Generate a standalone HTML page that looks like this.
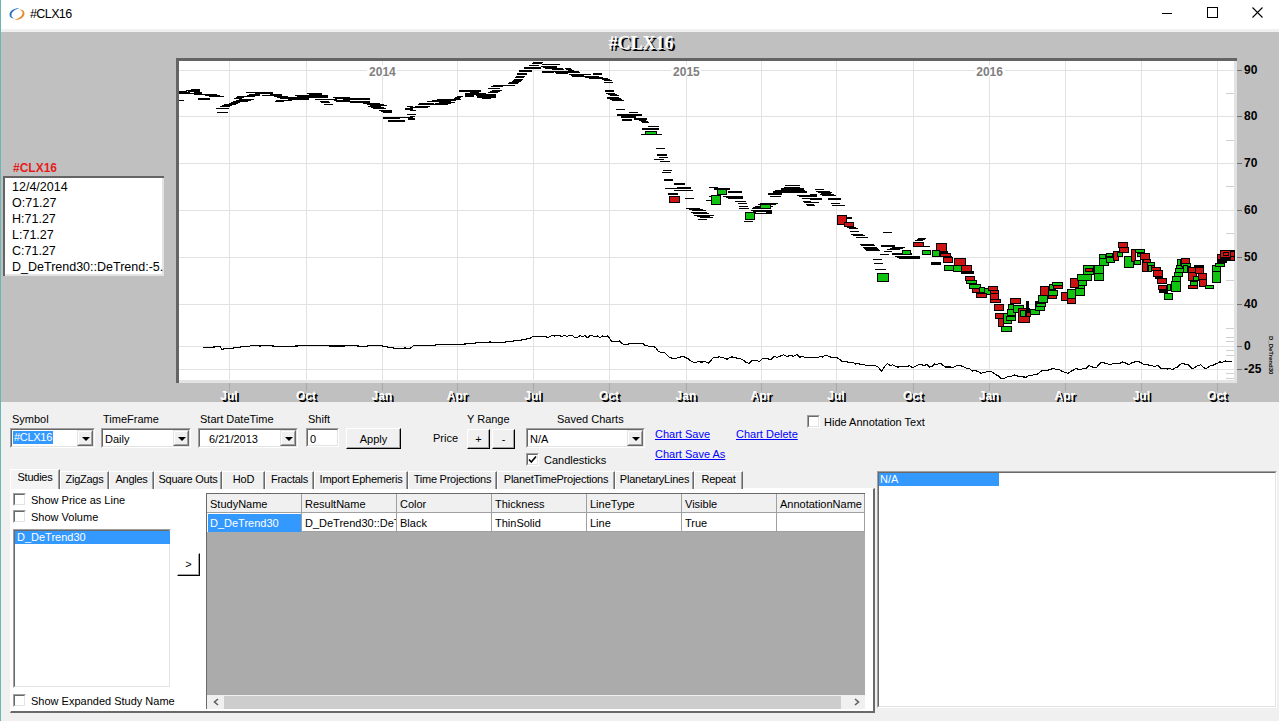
<!DOCTYPE html>
<html><head><meta charset="utf-8">
<style>
*{box-sizing:border-box;margin:0;padding:0}
html,body{width:1279px;height:721px;overflow:hidden}
body{position:relative;background:#f0f0f0;font-family:"Liberation Sans",sans-serif;font-size:11px;color:#000}
.abs{position:absolute}
.lbl{position:absolute;font-size:11px;line-height:13px;white-space:nowrap;padding-top:1px}
.sunk{position:absolute;background:#fff;border-top:1px solid #a0a0a0;border-left:1px solid #a0a0a0;border-right:1px solid #fff;border-bottom:1px solid #fff}
.sunk>.in{position:absolute;left:0;top:0;right:0;bottom:0;border-top:1px solid #696969;border-left:1px solid #696969;border-right:1px solid #e3e3e3;border-bottom:1px solid #e3e3e3}
.btn{position:absolute;background:#f0f0f0;border-top:1px solid #fff;border-left:1px solid #fff;border-right:1px solid #000;border-bottom:1px solid #000;text-align:center;font-size:11px}
.btn>.in{position:absolute;left:0;top:0;right:0;bottom:0;border-right:1px solid #a0a0a0;border-bottom:1px solid #a0a0a0}
.ddb{position:absolute;top:1px;bottom:1px;right:1px;width:16px;background:#f0f0f0;border-top:1px solid #e3e3e3;border-left:1px solid #e3e3e3;border-right:1px solid #696969;border-bottom:1px solid #696969}
.ddb>.in{position:absolute;left:0;top:0;right:0;bottom:0;border-top:1px solid #fff;border-left:1px solid #fff;border-right:1px solid #a0a0a0;border-bottom:1px solid #a0a0a0}
.arr{position:absolute;left:4px;top:6px;width:0;height:0;border-left:4px solid transparent;border-right:4px solid transparent;border-top:4px solid #000}
.chk{position:absolute;width:13px;height:13px;background:#fff;border-top:1px solid #a0a0a0;border-left:1px solid #a0a0a0;border-right:1px solid #fff;border-bottom:1px solid #fff}
.chk>.in{position:absolute;left:0;top:0;right:0;bottom:0;border-top:1px solid #696969;border-left:1px solid #696969;border-right:1px solid #e3e3e3;border-bottom:1px solid #e3e3e3}
.sel{position:absolute;background:#3399ff;color:#fff}
.link{position:absolute;color:#0000ff;text-decoration:underline;font-size:11px;line-height:13px;white-space:nowrap;padding-top:1px}
.tab{position:absolute;top:471px;height:18px;background:#f0f0f0;border-top:1px solid #fff;border-left:1px solid #fff;border-right:1px solid #696969;font-size:11px;line-height:15px;text-align:center;white-space:nowrap;letter-spacing:-0.25px}
.tab>.in{position:absolute;left:0;top:0;right:0;bottom:0;border-right:1px solid #a0a0a0}
.cell{position:absolute;font-size:11px;line-height:19px;padding-left:3px;white-space:nowrap;overflow:hidden}
</style></head><body>
<!-- title bar -->
<div class="abs" style="left:0;top:0;width:1279px;height:29px;background:#fff"></div>
<div class="abs" style="left:0;top:29px;width:1279px;height:3px;background:#f0f0f0"></div>
<svg class="abs" style="left:8px;top:6px" width="18" height="16" viewBox="0 0 18 16">
  <path d="M11.5 2.2 C7 1.8 1.6 4.2 1.5 8.6 C1.5 11.2 3.6 12.8 6.8 12.6 C4.2 11.8 3.2 10.4 3.5 8.4 C4 5.4 7.5 3.2 11.5 2.2 Z" fill="#2a73c4"/>
  <path d="M6.5 13.8 C11 14.2 16.4 11.8 16.5 7.4 C16.5 4.8 14.4 3.2 11.2 3.4 C13.8 4.2 14.8 5.6 14.5 7.6 C14 10.6 10.5 12.8 6.5 13.8 Z" fill="#e8892a"/>
</svg>
<div class="lbl" style="left:30px;top:6px;font-size:12.5px;line-height:15px;letter-spacing:-0.6px">#CLX16</div>
<svg class="abs" style="left:1160px;top:0" width="119" height="29" shape-rendering="crispEdges">
  <rect x="2" y="13" width="10" height="1" fill="#000"/>
  <rect x="47.5" y="7.5" width="10" height="10" fill="none" stroke="#000" stroke-width="1"/>
  <path d="M92.5 7.5 L102.5 17.5 M102.5 7.5 L92.5 17.5" stroke="#000" stroke-width="1.1" shape-rendering="geometricPrecision"/>
</svg>
<div class="abs" style="left:0;top:0;width:1px;height:721px;background:#6bb5b5"></div>
<svg class="abs" style="left:0;top:0" width="1279" height="402" shape-rendering="crispEdges"><rect x="1" y="32" width="1278" height="370" fill="#c0c0c0"/><rect x="176" y="58" width="1061" height="325" fill="#646464"/><rect x="179" y="61" width="1058" height="322" fill="#e3e3e3"/><rect x="179" y="61" width="1055" height="319" fill="#ffffff"/><rect x="179" y="70" width="1055" height="1" fill="#e2e2e2"/><rect x="179" y="116" width="1055" height="1" fill="#e2e2e2"/><rect x="179" y="163" width="1055" height="1" fill="#e2e2e2"/><rect x="179" y="210" width="1055" height="1" fill="#e2e2e2"/><rect x="179" y="257" width="1055" height="1" fill="#e2e2e2"/><rect x="179" y="304" width="1055" height="1" fill="#e2e2e2"/><rect x="179" y="346" width="1055" height="1" fill="#e2e2e2"/><rect x="179" y="369" width="1055" height="1" fill="#e2e2e2"/><rect x="229" y="61" width="1" height="319" fill="#e2e2e2"/><rect x="229" y="383" width="1" height="8" fill="#a8a8a8"/><rect x="306" y="61" width="1" height="319" fill="#e2e2e2"/><rect x="306" y="383" width="1" height="8" fill="#a8a8a8"/><rect x="382" y="61" width="1" height="319" fill="#e2e2e2"/><rect x="382" y="383" width="1" height="8" fill="#a8a8a8"/><rect x="457" y="61" width="1" height="319" fill="#e2e2e2"/><rect x="457" y="383" width="1" height="8" fill="#a8a8a8"/><rect x="533" y="61" width="1" height="319" fill="#e2e2e2"/><rect x="533" y="383" width="1" height="8" fill="#a8a8a8"/><rect x="609" y="61" width="1" height="319" fill="#e2e2e2"/><rect x="609" y="383" width="1" height="8" fill="#a8a8a8"/><rect x="686" y="61" width="1" height="319" fill="#e2e2e2"/><rect x="686" y="383" width="1" height="8" fill="#a8a8a8"/><rect x="761" y="61" width="1" height="319" fill="#e2e2e2"/><rect x="761" y="383" width="1" height="8" fill="#a8a8a8"/><rect x="836" y="61" width="1" height="319" fill="#e2e2e2"/><rect x="836" y="383" width="1" height="8" fill="#a8a8a8"/><rect x="913" y="61" width="1" height="319" fill="#e2e2e2"/><rect x="913" y="383" width="1" height="8" fill="#a8a8a8"/><rect x="989" y="61" width="1" height="319" fill="#e2e2e2"/><rect x="989" y="383" width="1" height="8" fill="#a8a8a8"/><rect x="1065" y="61" width="1" height="319" fill="#e2e2e2"/><rect x="1065" y="383" width="1" height="8" fill="#a8a8a8"/><rect x="1141" y="61" width="1" height="319" fill="#e2e2e2"/><rect x="1141" y="383" width="1" height="8" fill="#a8a8a8"/><rect x="1217" y="61" width="1" height="319" fill="#e2e2e2"/><rect x="1217" y="383" width="1" height="8" fill="#a8a8a8"/><rect x="1226" y="93" width="8" height="1" fill="#d0d0d0"/><rect x="1226" y="140" width="8" height="1" fill="#d0d0d0"/><rect x="1226" y="186" width="8" height="1" fill="#d0d0d0"/><rect x="1226" y="233" width="8" height="1" fill="#d0d0d0"/><rect x="1226" y="280" width="8" height="1" fill="#d0d0d0"/><rect x="1226" y="328" width="8" height="1" fill="#d0d0d0"/><rect x="1226" y="337" width="8" height="1" fill="#d0d0d0"/><rect x="1226" y="341" width="8" height="1" fill="#d0d0d0"/><rect x="1226" y="350" width="8" height="1" fill="#d0d0d0"/><rect x="1226" y="355" width="8" height="1" fill="#d0d0d0"/><rect x="1226" y="373" width="8" height="1" fill="#d0d0d0"/><rect x="1226" y="378" width="8" height="1" fill="#d0d0d0"/><rect x="1237" y="70" width="5" height="1" fill="#707070"/><rect x="1237" y="116" width="5" height="1" fill="#707070"/><rect x="1237" y="163" width="5" height="1" fill="#707070"/><rect x="1237" y="210" width="5" height="1" fill="#707070"/><rect x="1237" y="257" width="5" height="1" fill="#707070"/><rect x="1237" y="304" width="5" height="1" fill="#707070"/><rect x="1237" y="346" width="5" height="1" fill="#707070"/><rect x="1237" y="369" width="5" height="1" fill="#707070"/><rect x="367.4" y="65" width="30" height="11" fill="#ffffff"/><text x="382.4" y="76" text-anchor="middle" font-family="Liberation Sans" font-weight="bold" font-size="12" fill="#808080">2014</text><rect x="671.4" y="65" width="30" height="11" fill="#ffffff"/><text x="686.4" y="76" text-anchor="middle" font-family="Liberation Sans" font-weight="bold" font-size="12" fill="#808080">2015</text><rect x="974.6" y="65" width="30" height="11" fill="#ffffff"/><text x="989.6" y="76" text-anchor="middle" font-family="Liberation Sans" font-weight="bold" font-size="12" fill="#808080">2016</text><rect x="179" y="91" width="8" height="3" fill="#000"/><rect x="186" y="90" width="14" height="1" fill="#000"/><rect x="188" y="91" width="12" height="1" fill="#000"/><rect x="186" y="92" width="4" height="1" fill="#000"/><rect x="196" y="92" width="4" height="1" fill="#000"/><rect x="187" y="93" width="13" height="1" fill="#000"/><rect x="191" y="89" width="9" height="1" fill="#000"/><rect x="194" y="92" width="8" height="3" fill="#000"/><rect x="202" y="94" width="15" height="1" fill="#000"/><rect x="205" y="95" width="15" height="1" fill="#000"/><rect x="209" y="96" width="15" height="1" fill="#000"/><rect x="198" y="98" width="12" height="2" fill="#000"/><rect x="179" y="100" width="5" height="1" fill="#000"/><rect x="224" y="104" width="10" height="1" fill="#000"/><rect x="222" y="105" width="10" height="1" fill="#000"/><rect x="220" y="106" width="10" height="1" fill="#000"/><rect x="231" y="102" width="9" height="1" fill="#000"/><rect x="229" y="103" width="9" height="1" fill="#000"/><rect x="227" y="104" width="9" height="1" fill="#000"/><rect x="216" y="108" width="13" height="1" fill="#000"/><rect x="217" y="112" width="11" height="1" fill="#000"/><rect x="239" y="99" width="15" height="1" fill="#000"/><rect x="236" y="100" width="15" height="1" fill="#000"/><rect x="233" y="101" width="15" height="1" fill="#000"/><rect x="237" y="96" width="8" height="1" fill="#000"/><rect x="236" y="97" width="8" height="1" fill="#000"/><rect x="234" y="98" width="8" height="1" fill="#000"/><rect x="249" y="94" width="10" height="1" fill="#000"/><rect x="247" y="95" width="10" height="1" fill="#000"/><rect x="245" y="96" width="10" height="1" fill="#000"/><rect x="246" y="92" width="11" height="1" fill="#000"/><rect x="255" y="92" width="5" height="4" fill="#000"/><rect x="260" y="92" width="13" height="2" fill="#000"/><rect x="262" y="95" width="9" height="1" fill="#000"/><rect x="270" y="94" width="12" height="2" fill="#000"/><rect x="274" y="96" width="14" height="1" fill="#000"/><rect x="277" y="97" width="14" height="1" fill="#000"/><rect x="280" y="98" width="14" height="1" fill="#000"/><rect x="276" y="100" width="16" height="1" fill="#000"/><rect x="275" y="101" width="9" height="1" fill="#000"/><rect x="284" y="97" width="25" height="1" fill="#000"/><rect x="286" y="98" width="23" height="1" fill="#000"/><rect x="288" y="99" width="21" height="1" fill="#000"/><rect x="295" y="95" width="33" height="1" fill="#000"/><rect x="297" y="96" width="31" height="1" fill="#000"/><rect x="299" y="97" width="29" height="1" fill="#000"/><rect x="307" y="93" width="15" height="1" fill="#000"/><rect x="309" y="94" width="13" height="1" fill="#000"/><rect x="311" y="95" width="11" height="1" fill="#000"/><rect x="315" y="99" width="20" height="1" fill="#000"/><rect x="320" y="101" width="9" height="1" fill="#000"/><rect x="321" y="102" width="9" height="1" fill="#000"/><rect x="324" y="104" width="9" height="1" fill="#000"/><rect x="333" y="97" width="17" height="1" fill="#000"/><rect x="335" y="98" width="15" height="1" fill="#000"/><rect x="333" y="99" width="4" height="1" fill="#000"/><rect x="345" y="99" width="5" height="1" fill="#000"/><rect x="334" y="100" width="16" height="1" fill="#000"/><rect x="336" y="101" width="14" height="1" fill="#000"/><rect x="343" y="98" width="27" height="2" fill="#000"/><rect x="350" y="101" width="20" height="2" fill="#000"/><rect x="363" y="103" width="17" height="1" fill="#000"/><rect x="367" y="104" width="17" height="1" fill="#000"/><rect x="370" y="105" width="17" height="1" fill="#000"/><rect x="368" y="106" width="13" height="1" fill="#000"/><rect x="371" y="107" width="13" height="1" fill="#000"/><rect x="373" y="108" width="13" height="1" fill="#000"/><rect x="379" y="110" width="13" height="1" fill="#000"/><rect x="381" y="111" width="11" height="1" fill="#000"/><rect x="383" y="112" width="9" height="1" fill="#000"/><rect x="383" y="117" width="17" height="2" fill="#000"/><rect x="395" y="117" width="18" height="1" fill="#000"/><rect x="388" y="120" width="17" height="2" fill="#000"/><rect x="407" y="106" width="6" height="1" fill="#000"/><rect x="405" y="108" width="8" height="2" fill="#000"/><rect x="407" y="114" width="6" height="1" fill="#000"/><rect x="410" y="116" width="5" height="1" fill="#000"/><rect x="408" y="118" width="7" height="2" fill="#000"/><rect x="410" y="114" width="6" height="1" fill="#000"/><rect x="410" y="107" width="7" height="1" fill="#000"/><rect x="410" y="110" width="6" height="1" fill="#000"/><rect x="419" y="103" width="15" height="1" fill="#000"/><rect x="418" y="104" width="15" height="1" fill="#000"/><rect x="415" y="106" width="15" height="1" fill="#000"/><rect x="413" y="107" width="15" height="1" fill="#000"/><rect x="437" y="99" width="24" height="1" fill="#000"/><rect x="432" y="100" width="24" height="1" fill="#000"/><rect x="427" y="101" width="24" height="1" fill="#000"/><rect x="439" y="102" width="16" height="1" fill="#000"/><rect x="435" y="103" width="16" height="1" fill="#000"/><rect x="432" y="104" width="16" height="1" fill="#000"/><rect x="457" y="96" width="6" height="1" fill="#000"/><rect x="455" y="97" width="6" height="1" fill="#000"/><rect x="454" y="98" width="6" height="1" fill="#000"/><rect x="459" y="90" width="22" height="2" fill="#000"/><rect x="472" y="90" width="9" height="2" fill="#000"/><rect x="470" y="92" width="9" height="2" fill="#000"/><rect x="465" y="93" width="21" height="2" fill="#000"/><rect x="465" y="95" width="9" height="2" fill="#000"/><rect x="476" y="94" width="20" height="2" fill="#000"/><rect x="477" y="96" width="19" height="2" fill="#000"/><rect x="482" y="98" width="9" height="1" fill="#000"/><rect x="493" y="85" width="12" height="1" fill="#000"/><rect x="491" y="86" width="12" height="1" fill="#000"/><rect x="488" y="88" width="12" height="1" fill="#000"/><rect x="492" y="90" width="10" height="1" fill="#000"/><rect x="490" y="91" width="10" height="1" fill="#000"/><rect x="488" y="92" width="10" height="1" fill="#000"/><rect x="509" y="82" width="10" height="1" fill="#000"/><rect x="508" y="83" width="10" height="1" fill="#000"/><rect x="505" y="85" width="10" height="1" fill="#000"/><rect x="516" y="76" width="9" height="1" fill="#000"/><rect x="515" y="77" width="9" height="1" fill="#000"/><rect x="514" y="79" width="9" height="1" fill="#000"/><rect x="513" y="80" width="9" height="1" fill="#000"/><rect x="512" y="81" width="9" height="1" fill="#000"/><rect x="517" y="73" width="10" height="2" fill="#000"/><rect x="519" y="70" width="13" height="2" fill="#000"/><rect x="524" y="67" width="17" height="2" fill="#000"/><rect x="533" y="62" width="10" height="1" fill="#000"/><rect x="532" y="63" width="10" height="1" fill="#000"/><rect x="529" y="65" width="10" height="1" fill="#000"/><rect x="542" y="64" width="18" height="1" fill="#000"/><rect x="541" y="66" width="16" height="1" fill="#000"/><rect x="543" y="67" width="14" height="1" fill="#000"/><rect x="545" y="68" width="12" height="1" fill="#000"/><rect x="542" y="71" width="12" height="2" fill="#000"/><rect x="551" y="68" width="12" height="1" fill="#000"/><rect x="552" y="69" width="12" height="1" fill="#000"/><rect x="554" y="71" width="12" height="1" fill="#000"/><rect x="555" y="72" width="12" height="1" fill="#000"/><rect x="556" y="73" width="12" height="1" fill="#000"/><rect x="565" y="68" width="6" height="1" fill="#000"/><rect x="566" y="69" width="6" height="1" fill="#000"/><rect x="568" y="70" width="6" height="1" fill="#000"/><rect x="566" y="71" width="13" height="1" fill="#000"/><rect x="567" y="72" width="13" height="1" fill="#000"/><rect x="569" y="74" width="13" height="1" fill="#000"/><rect x="571" y="75" width="13" height="1" fill="#000"/><rect x="572" y="76" width="13" height="1" fill="#000"/><rect x="581" y="74" width="10" height="1" fill="#000"/><rect x="593" y="73" width="9" height="2" fill="#000"/><rect x="581" y="76" width="18" height="1" fill="#000"/><rect x="585" y="77" width="18" height="1" fill="#000"/><rect x="589" y="78" width="18" height="1" fill="#000"/><rect x="600" y="78" width="8" height="1" fill="#000"/><rect x="602" y="79" width="8" height="1" fill="#000"/><rect x="604" y="80" width="8" height="1" fill="#000"/><rect x="604" y="82" width="9" height="1" fill="#000"/><rect x="605" y="90" width="9" height="2" fill="#000"/><rect x="606" y="93" width="9" height="1" fill="#000"/><rect x="608" y="94" width="9" height="1" fill="#000"/><rect x="610" y="95" width="9" height="1" fill="#000"/><rect x="607" y="97" width="12" height="1" fill="#000"/><rect x="609" y="98" width="12" height="1" fill="#000"/><rect x="612" y="100" width="12" height="1" fill="#000"/><rect x="607" y="98" width="12" height="1" fill="#000"/><rect x="610" y="99" width="12" height="1" fill="#000"/><rect x="612" y="100" width="12" height="1" fill="#000"/><rect x="616" y="109" width="9" height="1" fill="#000"/><rect x="629" y="112" width="9" height="1" fill="#000"/><rect x="617" y="114" width="25" height="2" fill="#000"/><rect x="621" y="116" width="15" height="2" fill="#000"/><rect x="622" y="119" width="10" height="2" fill="#000"/><rect x="634" y="118" width="13" height="2" fill="#000"/><rect x="639" y="120" width="7" height="1" fill="#000"/><rect x="641" y="121" width="7" height="1" fill="#000"/><rect x="642" y="122" width="7" height="1" fill="#000"/><rect x="648" y="126" width="11" height="1" fill="#000"/><rect x="642" y="128" width="17" height="2" fill="#000"/><rect x="645" y="131" width="8" height="1" fill="#000"/><rect x="647" y="132" width="8" height="1" fill="#000"/><rect x="648" y="133" width="8" height="1" fill="#000"/><rect x="641" y="134" width="21" height="1" fill="#000"/><rect x="656" y="148" width="9" height="1" fill="#000"/><rect x="657" y="154" width="10" height="2" fill="#000"/><rect x="659" y="157" width="9" height="1" fill="#000"/><rect x="654" y="159" width="10" height="1" fill="#000"/><rect x="660" y="161" width="10" height="1" fill="#000"/><rect x="663" y="170" width="9" height="1" fill="#000"/><rect x="662" y="172" width="9" height="1" fill="#000"/><rect x="664" y="179" width="9" height="2" fill="#000"/><rect x="674" y="183" width="11" height="2" fill="#000"/><rect x="665" y="188" width="26" height="1" fill="#000"/><rect x="677" y="187" width="14" height="2" fill="#000"/><rect x="674" y="190" width="19" height="1" fill="#000"/><rect x="668" y="193" width="10" height="2" fill="#000"/><rect x="685" y="198" width="9" height="1" fill="#000"/><rect x="686" y="208" width="14" height="1" fill="#000"/><rect x="689" y="209" width="14" height="1" fill="#000"/><rect x="692" y="210" width="14" height="1" fill="#000"/><rect x="691" y="212" width="16" height="1" fill="#000"/><rect x="693" y="213" width="16" height="1" fill="#000"/><rect x="698" y="215" width="16" height="1" fill="#000"/><rect x="694" y="215" width="13" height="1" fill="#000"/><rect x="697" y="216" width="13" height="1" fill="#000"/><rect x="700" y="217" width="13" height="1" fill="#000"/><rect x="698" y="219" width="9" height="1" fill="#000"/><rect x="709" y="187" width="9" height="1" fill="#000"/><rect x="714" y="188" width="16" height="2" fill="#000"/><rect x="728" y="191" width="12" height="2" fill="#000"/><rect x="709" y="196" width="11" height="1" fill="#000"/><rect x="706" y="200" width="5" height="1" fill="#000"/><rect x="723" y="196" width="12" height="1" fill="#000"/><rect x="726" y="197" width="12" height="1" fill="#000"/><rect x="728" y="198" width="12" height="1" fill="#000"/><rect x="735" y="201" width="5" height="1" fill="#000"/><rect x="735" y="191" width="7" height="2" fill="#000"/><rect x="735" y="196" width="8" height="3" fill="#000"/><rect x="735" y="201" width="11" height="1" fill="#000"/><rect x="738" y="203" width="9" height="1" fill="#000"/><rect x="739" y="206" width="9" height="1" fill="#000"/><rect x="739" y="208" width="10" height="1" fill="#000"/><rect x="751" y="210" width="21" height="1" fill="#000"/><rect x="753" y="211" width="19" height="1" fill="#000"/><rect x="751" y="212" width="5" height="1" fill="#000"/><rect x="766" y="212" width="6" height="1" fill="#000"/><rect x="752" y="213" width="20" height="1" fill="#000"/><rect x="744" y="221" width="9" height="1" fill="#000"/><rect x="760" y="203" width="18" height="1" fill="#000"/><rect x="758" y="204" width="18" height="1" fill="#000"/><rect x="755" y="206" width="18" height="1" fill="#000"/><rect x="753" y="207" width="18" height="1" fill="#000"/><rect x="752" y="208" width="18" height="1" fill="#000"/><rect x="785" y="185" width="15" height="1" fill="#000"/><rect x="784" y="187" width="16" height="1" fill="#000"/><rect x="781" y="188" width="23" height="2" fill="#000"/><rect x="775" y="190" width="30" height="1" fill="#000"/><rect x="773" y="191" width="34" height="2" fill="#000"/><rect x="768" y="193" width="14" height="2" fill="#000"/><rect x="770" y="196" width="11" height="1" fill="#000"/><rect x="797" y="195" width="13" height="1" fill="#000"/><rect x="799" y="196" width="13" height="1" fill="#000"/><rect x="802" y="198" width="13" height="1" fill="#000"/><rect x="803" y="201" width="8" height="1" fill="#000"/><rect x="804" y="202" width="8" height="1" fill="#000"/><rect x="806" y="204" width="8" height="1" fill="#000"/><rect x="807" y="205" width="8" height="1" fill="#000"/><rect x="815" y="189" width="9" height="1" fill="#000"/><rect x="816" y="191" width="14" height="1" fill="#000"/><rect x="818" y="192" width="14" height="1" fill="#000"/><rect x="820" y="194" width="14" height="1" fill="#000"/><rect x="822" y="195" width="14" height="1" fill="#000"/><rect x="810" y="198" width="12" height="2" fill="#000"/><rect x="828" y="198" width="13" height="2" fill="#000"/><rect x="810" y="202" width="9" height="1" fill="#000"/><rect x="831" y="203" width="9" height="1" fill="#000"/><rect x="832" y="205" width="13" height="1" fill="#000"/><rect x="846" y="217" width="6" height="2" fill="#000"/><rect x="845" y="226" width="9" height="1" fill="#000"/><rect x="847" y="227" width="9" height="1" fill="#000"/><rect x="849" y="228" width="9" height="1" fill="#000"/><rect x="850" y="231" width="9" height="1" fill="#000"/><rect x="851" y="234" width="12" height="1" fill="#000"/><rect x="853" y="235" width="12" height="1" fill="#000"/><rect x="856" y="237" width="12" height="1" fill="#000"/><rect x="883" y="232" width="9" height="1" fill="#000"/><rect x="860" y="244" width="14" height="1" fill="#000"/><rect x="861" y="245" width="14" height="1" fill="#000"/><rect x="863" y="247" width="14" height="1" fill="#000"/><rect x="864" y="248" width="14" height="1" fill="#000"/><rect x="865" y="249" width="14" height="1" fill="#000"/><rect x="866" y="250" width="14" height="1" fill="#000"/><rect x="881" y="245" width="14" height="2" fill="#000"/><rect x="892" y="247" width="13" height="1" fill="#000"/><rect x="890" y="248" width="13" height="1" fill="#000"/><rect x="887" y="249" width="13" height="1" fill="#000"/><rect x="884" y="251" width="8" height="1" fill="#000"/><rect x="880" y="254" width="9" height="1" fill="#000"/><rect x="892" y="253" width="20" height="2" fill="#000"/><rect x="895" y="256" width="25" height="1" fill="#000"/><rect x="897" y="257" width="23" height="1" fill="#000"/><rect x="899" y="258" width="21" height="1" fill="#000"/><rect x="918" y="238" width="8" height="1" fill="#000"/><rect x="917" y="239" width="8" height="1" fill="#000"/><rect x="915" y="240" width="8" height="1" fill="#000"/><rect x="922" y="246" width="8" height="1" fill="#000"/><rect x="873" y="259" width="9" height="1" fill="#000"/><rect x="874" y="263" width="9" height="1" fill="#000"/><rect x="875" y="269" width="11" height="1" fill="#000"/><rect x="645" y="131" width="12" height="4" fill="#000"/><rect x="646" y="132" width="10" height="2" fill="#11c311"/><rect x="669" y="196" width="11" height="7" fill="#000"/><rect x="670" y="197" width="9" height="5" fill="#cc1414"/><rect x="717" y="189" width="10" height="6" fill="#000"/><rect x="718" y="190" width="8" height="4" fill="#11c311"/><rect x="711" y="195" width="10" height="10" fill="#000"/><rect x="712" y="196" width="8" height="8" fill="#11c311"/><rect x="745" y="212" width="10" height="8" fill="#000"/><rect x="746" y="213" width="8" height="6" fill="#11c311"/><rect x="760" y="204" width="11" height="5" fill="#000"/><rect x="761" y="205" width="9" height="3" fill="#11c311"/><rect x="810" y="194" width="7" height="3" fill="#000"/><rect x="821" y="192" width="10" height="3" fill="#000"/><rect x="837" y="215" width="10" height="10" fill="#000"/><rect x="838" y="216" width="8" height="8" fill="#cc1414"/><rect x="844" y="222" width="10" height="5" fill="#000"/><rect x="845" y="223" width="8" height="3" fill="#cc1414"/><rect x="902" y="250" width="9" height="5" fill="#000"/><rect x="903" y="251" width="7" height="3" fill="#11c311"/><rect x="913" y="242" width="11" height="5" fill="#000"/><rect x="914" y="243" width="9" height="3" fill="#cc1414"/><rect x="922" y="250" width="9" height="5" fill="#000"/><rect x="923" y="251" width="7" height="3" fill="#11c311"/><rect x="877" y="273" width="12" height="9" fill="#000"/><rect x="878" y="274" width="10" height="7" fill="#11c311"/><rect x="936" y="243" width="11" height="9" fill="#000"/><rect x="937" y="244" width="9" height="7" fill="#cc1414"/><rect x="932" y="250" width="8" height="7" fill="#000"/><rect x="933" y="251" width="6" height="5" fill="#11c311"/><rect x="939" y="251" width="9" height="3" fill="#000"/><rect x="940" y="253" width="11" height="4" fill="#000"/><rect x="941" y="254" width="9" height="2" fill="#cc1414"/><rect x="943" y="256" width="9" height="3" fill="#000"/><rect x="943" y="257" width="10" height="6" fill="#000"/><rect x="944" y="258" width="8" height="4" fill="#cc1414"/><rect x="931" y="262" width="10" height="3" fill="#000"/><rect x="954" y="258" width="12" height="8" fill="#000"/><rect x="955" y="259" width="10" height="6" fill="#cc1414"/><rect x="944" y="265" width="11" height="6" fill="#000"/><rect x="945" y="266" width="9" height="4" fill="#11c311"/><rect x="953" y="265" width="9" height="7" fill="#000"/><rect x="954" y="266" width="7" height="5" fill="#11c311"/><rect x="961" y="265" width="11" height="7" fill="#000"/><rect x="962" y="266" width="9" height="5" fill="#cc1414"/><rect x="961" y="271" width="13" height="3" fill="#000"/><rect x="965" y="276" width="10" height="5" fill="#000"/><rect x="966" y="277" width="8" height="3" fill="#cc1414"/><rect x="966" y="280" width="11" height="4" fill="#000"/><rect x="967" y="281" width="9" height="2" fill="#11c311"/><rect x="969" y="284" width="12" height="5" fill="#000"/><rect x="970" y="285" width="10" height="3" fill="#11c311"/><rect x="972" y="288" width="9" height="5" fill="#000"/><rect x="973" y="289" width="7" height="3" fill="#cc1414"/><rect x="979" y="287" width="6" height="6" fill="#000"/><rect x="980" y="288" width="4" height="4" fill="#11c311"/><rect x="984" y="288" width="7" height="7" fill="#000"/><rect x="985" y="289" width="5" height="5" fill="#11c311"/><rect x="976" y="293" width="11" height="5" fill="#000"/><rect x="977" y="294" width="9" height="3" fill="#cc1414"/><rect x="988" y="286" width="10" height="5" fill="#000"/><rect x="989" y="287" width="8" height="3" fill="#cc1414"/><rect x="990" y="290" width="9" height="4" fill="#000"/><rect x="991" y="291" width="7" height="2" fill="#cc1414"/><rect x="990" y="293" width="9" height="7" fill="#000"/><rect x="991" y="294" width="7" height="5" fill="#cc1414"/><rect x="990" y="299" width="11" height="4" fill="#000"/><rect x="991" y="300" width="9" height="2" fill="#cc1414"/><rect x="994" y="304" width="10" height="7" fill="#000"/><rect x="995" y="305" width="8" height="5" fill="#cc1414"/><rect x="995" y="313" width="9" height="6" fill="#000"/><rect x="996" y="314" width="7" height="4" fill="#cc1414"/><rect x="998" y="318" width="6" height="9" fill="#000"/><rect x="999" y="319" width="4" height="7" fill="#cc1414"/><rect x="1001" y="326" width="11" height="6" fill="#000"/><rect x="1002" y="327" width="9" height="4" fill="#11c311"/><rect x="1003" y="313" width="9" height="11" fill="#000"/><rect x="1004" y="314" width="7" height="9" fill="#11c311"/><rect x="1006" y="316" width="10" height="5" fill="#000"/><rect x="1007" y="317" width="8" height="3" fill="#11c311"/><rect x="1007" y="309" width="9" height="7" fill="#000"/><rect x="1008" y="310" width="7" height="5" fill="#11c311"/><rect x="1008" y="304" width="6" height="6" fill="#000"/><rect x="1009" y="305" width="4" height="4" fill="#11c311"/><rect x="1010" y="298" width="11" height="6" fill="#000"/><rect x="1011" y="299" width="9" height="4" fill="#cc1414"/><rect x="1013" y="305" width="11" height="8" fill="#000"/><rect x="1014" y="306" width="9" height="6" fill="#11c311"/><rect x="1018" y="308" width="12" height="15" fill="#000"/><rect x="1019" y="309" width="10" height="13" fill="#cc1414"/><rect x="1020" y="310" width="6" height="7" fill="#000"/><rect x="1021" y="311" width="4" height="5" fill="#11c311"/><rect x="1026" y="301" width="3" height="16" fill="#000"/><rect x="1026" y="312" width="5" height="5" fill="#000"/><rect x="1027" y="313" width="3" height="3" fill="#cc1414"/><rect x="1030" y="309" width="10" height="6" fill="#000"/><rect x="1031" y="310" width="8" height="4" fill="#11c311"/><rect x="1035" y="301" width="3" height="9" fill="#000"/><rect x="1035" y="306" width="10" height="5" fill="#000"/><rect x="1036" y="307" width="8" height="3" fill="#11c311"/><rect x="1036" y="303" width="10" height="4" fill="#000"/><rect x="1037" y="304" width="8" height="2" fill="#11c311"/><rect x="1038" y="295" width="10" height="8" fill="#000"/><rect x="1039" y="296" width="8" height="6" fill="#11c311"/><rect x="1040" y="286" width="9" height="10" fill="#000"/><rect x="1041" y="287" width="7" height="8" fill="#cc1414"/><rect x="1048" y="290" width="10" height="6" fill="#000"/><rect x="1049" y="291" width="8" height="4" fill="#11c311"/><rect x="1048" y="295" width="9" height="4" fill="#000"/><rect x="1049" y="296" width="7" height="2" fill="#cc1414"/><rect x="1049" y="284" width="7" height="6" fill="#000"/><rect x="1050" y="285" width="5" height="4" fill="#11c311"/><rect x="1053" y="285" width="10" height="4" fill="#000"/><rect x="1054" y="286" width="8" height="2" fill="#cc1414"/><rect x="1052" y="282" width="11" height="4" fill="#000"/><rect x="1053" y="283" width="9" height="2" fill="#11c311"/><rect x="1061" y="292" width="7" height="9" fill="#000"/><rect x="1062" y="293" width="5" height="7" fill="#cc1414"/><rect x="1067" y="289" width="9" height="10" fill="#000"/><rect x="1068" y="290" width="7" height="8" fill="#11c311"/><rect x="1067" y="298" width="9" height="6" fill="#000"/><rect x="1068" y="299" width="7" height="4" fill="#cc1414"/><rect x="1075" y="288" width="10" height="8" fill="#000"/><rect x="1076" y="289" width="8" height="6" fill="#11c311"/><rect x="1075" y="285" width="10" height="4" fill="#000"/><rect x="1076" y="286" width="8" height="2" fill="#11c311"/><rect x="1077" y="279" width="10" height="7" fill="#000"/><rect x="1078" y="280" width="8" height="5" fill="#11c311"/><rect x="1070" y="278" width="9" height="10" fill="#000"/><rect x="1071" y="279" width="7" height="8" fill="#cc1414"/><rect x="1077" y="274" width="15" height="7" fill="#000"/><rect x="1078" y="275" width="13" height="5" fill="#11c311"/><rect x="1083" y="265" width="11" height="10" fill="#000"/><rect x="1084" y="266" width="9" height="8" fill="#11c311"/><rect x="1085" y="268" width="8" height="4" fill="#000"/><rect x="1086" y="269" width="6" height="2" fill="#cc1414"/><rect x="1094" y="265" width="10" height="9" fill="#000"/><rect x="1095" y="266" width="8" height="7" fill="#11c311"/><rect x="1094" y="273" width="10" height="8" fill="#000"/><rect x="1095" y="274" width="8" height="6" fill="#11c311"/><rect x="1099" y="258" width="10" height="8" fill="#000"/><rect x="1100" y="259" width="8" height="6" fill="#11c311"/><rect x="1099" y="254" width="7" height="5" fill="#000"/><rect x="1100" y="255" width="5" height="3" fill="#11c311"/><rect x="1106" y="257" width="9" height="6" fill="#000"/><rect x="1107" y="258" width="7" height="4" fill="#11c311"/><rect x="1106" y="253" width="7" height="4" fill="#000"/><rect x="1107" y="254" width="5" height="2" fill="#11c311"/><rect x="1113" y="251" width="6" height="10" fill="#000"/><rect x="1114" y="252" width="4" height="8" fill="#cc1414"/><rect x="1117" y="252" width="6" height="5" fill="#000"/><rect x="1118" y="253" width="4" height="3" fill="#11c311"/><rect x="1118" y="242" width="10" height="6" fill="#000"/><rect x="1119" y="243" width="8" height="4" fill="#cc1414"/><rect x="1119" y="247" width="10" height="6" fill="#000"/><rect x="1120" y="248" width="8" height="4" fill="#cc1414"/><rect x="1124" y="256" width="10" height="12" fill="#000"/><rect x="1125" y="257" width="8" height="10" fill="#11c311"/><rect x="1131" y="249" width="5" height="13" fill="#000"/><rect x="1132" y="250" width="3" height="11" fill="#cc1414"/><rect x="1135" y="249" width="10" height="4" fill="#000"/><rect x="1136" y="250" width="8" height="2" fill="#11c311"/><rect x="1134" y="260" width="7" height="5" fill="#000"/><rect x="1135" y="261" width="5" height="3" fill="#11c311"/><rect x="1137" y="253" width="4" height="4" fill="#000"/><rect x="1138" y="254" width="2" height="2" fill="#11c311"/><rect x="1140" y="253" width="10" height="7" fill="#000"/><rect x="1141" y="254" width="8" height="5" fill="#cc1414"/><rect x="1142" y="259" width="6" height="13" fill="#000"/><rect x="1143" y="260" width="4" height="11" fill="#cc1414"/><rect x="1143" y="259" width="8" height="4" fill="#000"/><rect x="1144" y="260" width="6" height="2" fill="#cc1414"/><rect x="1147" y="262" width="8" height="4" fill="#000"/><rect x="1148" y="263" width="6" height="2" fill="#11c311"/><rect x="1147" y="265" width="8" height="4" fill="#000"/><rect x="1148" y="266" width="6" height="2" fill="#cc1414"/><rect x="1148" y="265" width="4" height="7" fill="#000"/><rect x="1149" y="266" width="2" height="5" fill="#11c311"/><rect x="1151" y="267" width="10" height="4" fill="#000"/><rect x="1152" y="268" width="8" height="2" fill="#cc1414"/><rect x="1153" y="270" width="10" height="7" fill="#000"/><rect x="1154" y="271" width="8" height="5" fill="#cc1414"/><rect x="1155" y="276" width="8" height="3" fill="#000"/><rect x="1157" y="278" width="10" height="6" fill="#000"/><rect x="1158" y="279" width="8" height="4" fill="#cc1414"/><rect x="1158" y="285" width="9" height="5" fill="#000"/><rect x="1159" y="286" width="7" height="3" fill="#cc1414"/><rect x="1159" y="290" width="9" height="3" fill="#000"/><rect x="1164" y="293" width="9" height="7" fill="#000"/><rect x="1165" y="294" width="7" height="5" fill="#11c311"/><rect x="1167" y="284" width="4" height="7" fill="#000"/><rect x="1168" y="285" width="2" height="5" fill="#11c311"/><rect x="1171" y="281" width="10" height="11" fill="#000"/><rect x="1172" y="282" width="8" height="9" fill="#11c311"/><rect x="1172" y="276" width="9" height="6" fill="#000"/><rect x="1173" y="277" width="7" height="4" fill="#11c311"/><rect x="1174" y="272" width="9" height="5" fill="#000"/><rect x="1175" y="273" width="7" height="3" fill="#11c311"/><rect x="1175" y="268" width="9" height="5" fill="#000"/><rect x="1176" y="269" width="7" height="3" fill="#11c311"/><rect x="1176" y="265" width="7" height="4" fill="#000"/><rect x="1177" y="266" width="5" height="2" fill="#11c311"/><rect x="1177" y="259" width="4" height="7" fill="#000"/><rect x="1178" y="260" width="2" height="5" fill="#11c311"/><rect x="1181" y="258" width="9" height="6" fill="#000"/><rect x="1182" y="259" width="7" height="4" fill="#cc1414"/><rect x="1181" y="263" width="10" height="4" fill="#000"/><rect x="1182" y="264" width="8" height="2" fill="#11c311"/><rect x="1183" y="265" width="5" height="8" fill="#000"/><rect x="1184" y="266" width="3" height="6" fill="#11c311"/><rect x="1188" y="267" width="8" height="6" fill="#000"/><rect x="1189" y="268" width="6" height="4" fill="#cc1414"/><rect x="1188" y="272" width="9" height="9" fill="#000"/><rect x="1189" y="273" width="7" height="7" fill="#cc1414"/><rect x="1190" y="281" width="8" height="5" fill="#000"/><rect x="1191" y="282" width="6" height="3" fill="#11c311"/><rect x="1188" y="285" width="10" height="4" fill="#000"/><rect x="1189" y="286" width="8" height="2" fill="#cc1414"/><rect x="1193" y="276" width="7" height="5" fill="#000"/><rect x="1194" y="277" width="5" height="3" fill="#11c311"/><rect x="1194" y="265" width="10" height="3" fill="#000"/><rect x="1195" y="267" width="9" height="7" fill="#000"/><rect x="1196" y="268" width="7" height="5" fill="#cc1414"/><rect x="1198" y="273" width="9" height="7" fill="#000"/><rect x="1199" y="274" width="7" height="5" fill="#cc1414"/><rect x="1199" y="279" width="8" height="8" fill="#000"/><rect x="1200" y="280" width="6" height="6" fill="#cc1414"/><rect x="1205" y="285" width="9" height="4" fill="#000"/><rect x="1206" y="286" width="7" height="2" fill="#11c311"/><rect x="1212" y="271" width="9" height="12" fill="#000"/><rect x="1213" y="272" width="7" height="10" fill="#11c311"/><rect x="1212" y="265" width="9" height="7" fill="#000"/><rect x="1213" y="266" width="7" height="5" fill="#11c311"/><rect x="1215" y="263" width="10" height="4" fill="#000"/><rect x="1216" y="264" width="8" height="2" fill="#11c311"/><rect x="1217" y="260" width="10" height="3" fill="#000"/><rect x="1217" y="254" width="6" height="6" fill="#000"/><rect x="1218" y="255" width="4" height="4" fill="#cc1414"/><rect x="1220" y="250" width="15" height="11" fill="#000"/><rect x="1221" y="251" width="13" height="9" fill="#cc1414"/><rect x="1230" y="251" width="5" height="6" fill="#000"/><rect x="1231" y="252" width="3" height="4" fill="#cc1414"/><rect x="1221" y="257" width="10" height="3" fill="#000"/><rect x="1223" y="252" width="6" height="4" fill="#000"/><rect x="1224" y="253" width="4" height="2" fill="#cc1414"/><polyline points="203.0,347.2 206.0,347.1 209.0,347.1 212.0,347.1 215.0,347.0 219.0,346.0 220.0,346.2 222.0,349.5 225.0,348.5 228.0,348.3 231.0,348.2 234.0,348.0 237.0,347.5 240.0,347.0 243.0,346.9 246.0,346.9 249.0,346.8 251.0,345.3 254.0,345.5 257.0,345.8 260.0,346.0 262.5,345.9 265.0,345.7 267.7,345.8 270.3,345.9 273.0,346.0 276.5,346.2 280.0,346.5 282.8,346.4 285.7,346.3 288.5,346.2 291.3,346.2 294.2,346.1 297.0,346.0 299.7,345.8 302.3,345.6 305.0,345.4 307.5,345.4 310.0,345.4 312.5,345.4 315.0,345.4 317.5,345.4 320.0,345.4 322.5,345.5 325.0,345.7 327.5,345.9 330.0,346.0 332.5,346.0 335.0,346.0 337.5,346.0 340.0,346.0 342.5,346.0 345.0,346.0 347.5,345.6 350.0,345.3 352.6,345.5 355.2,345.7 357.8,346.0 360.4,346.2 363.0,346.4 366.0,346.1 369.0,345.9 372.0,345.6 374.8,345.7 377.5,345.8 380.2,345.9 383.0,346.0 386.5,346.8 390.0,347.5 392.5,347.9 395.0,348.3 397.5,348.2 400.0,348.1 402.5,348.1 405.0,348.0 407.5,348.3 410.0,348.6 413.0,346.0 416.0,345.3 418.7,345.3 421.3,345.3 424.0,345.2 426.7,345.2 429.3,345.2 432.0,345.2 434.6,345.1 437.1,344.9 439.7,344.8 442.3,344.7 444.9,344.6 447.4,344.4 450.0,344.3 452.5,344.3 455.0,344.2 457.5,344.2 460.0,344.2 462.5,344.1 465.0,344.0 467.5,343.9 470.0,343.8 473.5,343.3 477.0,342.8 479.6,342.6 482.2,342.5 484.8,342.3 487.4,342.2 490.0,342.0 492.5,342.2 495.0,342.4 497.5,342.6 500.0,342.8 502.5,342.4 505.0,342.1 507.5,341.7 510.0,341.3 512.5,341.1 515.0,340.8 517.5,340.6 520.0,340.3 522.5,339.8 525.0,339.3 527.5,338.8 530.0,338.3 533.0,336.3 536.5,336.4 540.0,336.5 542.7,336.5 545.3,336.5 548.0,337.5 551.5,335.8 555.0,336.0 558.5,335.6 562.0,336.3 564.6,335.3 567.1,336.4 569.7,335.4 572.2,335.5 574.8,337.5 577.3,337.6 579.9,335.6 582.4,336.7 585.0,335.7 587.5,337.7 590.0,335.8 592.6,335.8 595.1,336.8 597.6,335.9 600.1,337.9 602.7,335.9 605.2,337.0 607.7,336.0 611.6,341.1 614.2,341.1 616.8,342.0 619.4,341.0 621.7,343.5 624.5,344.6 627.2,344.8 630.4,343.1 633.5,343.3 636.6,343.7 639.8,343.1 642.9,343.5 645.2,345.5 647.8,346.0 650.4,346.5 653.0,346.0 655.8,347.8 658.5,351.5 661.6,352.5 664.7,352.5 669.4,357.2 674.1,358.9 677.2,357.9 680.4,357.0 683.0,356.2 685.6,357.5 688.2,358.7 691.3,361.3 694.5,362.6 697.6,361.9 702.3,362.0 705.4,361.6 708.5,363.2 713.2,357.8 716.3,357.4 719.5,356.9 722.6,357.5 727.3,359.3 729.9,357.1 732.5,357.0 735.1,357.8 739.8,358.5 742.9,359.9 746.0,362.3 749.2,363.5 751.8,360.9 754.4,360.4 757.0,360.8 759.6,361.3 762.2,358.9 764.8,358.4 768.0,358.9 771.1,359.3 774.2,356.4 777.1,357.4 780.0,356.3 783.5,354.8 786.9,356.3 790.3,355.8 793.8,356.2 797.2,354.5 799.8,357.4 802.4,356.2 805.0,357.5 807.5,357.8 811.0,357.8 814.4,357.7 817.0,357.8 819.6,356.8 822.6,357.0 825.6,355.1 828.6,356.3 831.6,357.5 834.2,358.0 836.8,357.5 839.3,359.1 841.9,361.6 845.3,361.1 848.8,362.5 852.2,362.2 855.7,364.0 858.3,363.7 860.9,364.4 863.4,364.1 866.0,365.8 868.9,365.6 871.7,365.5 874.6,365.3 878.0,366.9 881.5,371.5 884.9,366.0 887.5,363.5 890.1,365.5 892.7,364.8 895.2,366.0 897.8,367.2 900.4,366.5 903.4,366.6 906.5,366.6 909.5,365.7 912.5,367.8 915.9,366.0 919.3,364.2 921.9,364.9 924.5,365.6 927.0,364.3 929.6,367.0 932.2,366.5 934.8,364.0 937.4,364.5 940.0,363.0 942.6,365.0 945.1,367.0 947.7,367.0 950.3,367.0 953.2,367.5 956.0,366.0 958.9,365.5 962.3,366.2 965.8,368.0 969.2,368.5 972.6,371.0 975.5,370.8 978.3,371.5 981.2,373.3 984.7,372.3 988.1,371.4 991.5,371.5 995.0,374.1 998.2,375.8 1001.4,378.6 1004.6,378.3 1007.8,376.5 1011.0,376.7 1014.2,374.9 1016.7,375.7 1019.3,376.6 1021.8,376.4 1023.7,377.0 1026.3,377.2 1028.8,375.5 1031.4,375.7 1034.1,374.7 1036.8,374.6 1039.4,372.6 1042.1,370.5 1044.8,370.5 1047.4,370.2 1049.9,369.8 1052.5,368.5 1056.3,369.3 1059.2,369.3 1062.0,371.3 1064.9,372.3 1067.8,373.3 1070.4,371.8 1072.9,370.3 1075.5,368.8 1078.3,369.1 1081.2,369.5 1083.8,368.2 1086.3,368.0 1088.9,365.7 1091.4,366.3 1094.0,368.0 1096.5,367.6 1100.4,362.8 1103.6,362.7 1106.8,363.7 1110.0,364.6 1113.2,363.6 1116.3,363.6 1119.5,363.6 1122.4,362.0 1125.7,363.0 1129.0,365.0 1131.9,362.5 1134.8,362.0 1137.7,361.2 1140.6,362.4 1143.2,364.3 1145.7,364.1 1148.3,365.0 1151.5,365.3 1154.6,366.7 1157.8,365.0 1161.0,368.3 1164.2,368.7 1167.4,369.0 1169.9,368.3 1172.5,369.7 1175.0,368.0 1177.6,367.2 1180.1,364.3 1182.7,363.5 1185.9,364.3 1189.1,365.2 1192.3,369.0 1195.2,367.2 1198.0,365.5 1200.6,364.8 1203.1,367.2 1205.7,368.5 1208.3,367.3 1210.8,365.2 1213.4,365.0 1217.2,363.3 1219.8,361.9 1222.3,362.4 1224.9,361.0 1227.4,361.2 1230.0,361.3 1232.5,361.5" fill="none" stroke="#000" stroke-width="1.1"/><text x="1244" y="73.5" font-family="Liberation Sans" font-weight="bold" font-size="12" fill="#000">90</text><text x="1244" y="119.5" font-family="Liberation Sans" font-weight="bold" font-size="12" fill="#000">80</text><text x="1244" y="166.5" font-family="Liberation Sans" font-weight="bold" font-size="12" fill="#000">70</text><text x="1244" y="213.5" font-family="Liberation Sans" font-weight="bold" font-size="12" fill="#000">60</text><text x="1244" y="260.5" font-family="Liberation Sans" font-weight="bold" font-size="12" fill="#000">50</text><text x="1244" y="307.5" font-family="Liberation Sans" font-weight="bold" font-size="12" fill="#000">40</text><text x="1244" y="349.5" font-family="Liberation Sans" font-weight="bold" font-size="12" fill="#000">0</text><text x="1244" y="372.5" font-family="Liberation Sans" font-weight="bold" font-size="12" fill="#000">-25</text><text x="231.0" y="401.5" text-anchor="middle" font-family="Liberation Sans" font-weight="bold" font-size="12" fill="#000">Jul</text><text x="229.0" y="399.5" text-anchor="middle" font-family="Liberation Sans" font-weight="bold" font-size="12" fill="#fff">Jul</text><text x="307.9" y="401.5" text-anchor="middle" font-family="Liberation Sans" font-weight="bold" font-size="12" fill="#000">Oct</text><text x="305.9" y="399.5" text-anchor="middle" font-family="Liberation Sans" font-weight="bold" font-size="12" fill="#fff">Oct</text><text x="383.9" y="401.5" text-anchor="middle" font-family="Liberation Sans" font-weight="bold" font-size="12" fill="#000">Jan</text><text x="381.9" y="399.5" text-anchor="middle" font-family="Liberation Sans" font-weight="bold" font-size="12" fill="#fff">Jan</text><text x="459.2" y="401.5" text-anchor="middle" font-family="Liberation Sans" font-weight="bold" font-size="12" fill="#000">Apr</text><text x="457.2" y="399.5" text-anchor="middle" font-family="Liberation Sans" font-weight="bold" font-size="12" fill="#fff">Apr</text><text x="535.0" y="401.5" text-anchor="middle" font-family="Liberation Sans" font-weight="bold" font-size="12" fill="#000">Jul</text><text x="533.0" y="399.5" text-anchor="middle" font-family="Liberation Sans" font-weight="bold" font-size="12" fill="#fff">Jul</text><text x="611.0" y="401.5" text-anchor="middle" font-family="Liberation Sans" font-weight="bold" font-size="12" fill="#000">Oct</text><text x="609.0" y="399.5" text-anchor="middle" font-family="Liberation Sans" font-weight="bold" font-size="12" fill="#fff">Oct</text><text x="687.9" y="401.5" text-anchor="middle" font-family="Liberation Sans" font-weight="bold" font-size="12" fill="#000">Jan</text><text x="685.9" y="399.5" text-anchor="middle" font-family="Liberation Sans" font-weight="bold" font-size="12" fill="#fff">Jan</text><text x="762.9" y="401.5" text-anchor="middle" font-family="Liberation Sans" font-weight="bold" font-size="12" fill="#000">Apr</text><text x="760.9" y="399.5" text-anchor="middle" font-family="Liberation Sans" font-weight="bold" font-size="12" fill="#fff">Apr</text><text x="838.0" y="401.5" text-anchor="middle" font-family="Liberation Sans" font-weight="bold" font-size="12" fill="#000">Jul</text><text x="836.0" y="399.5" text-anchor="middle" font-family="Liberation Sans" font-weight="bold" font-size="12" fill="#fff">Jul</text><text x="914.9" y="401.5" text-anchor="middle" font-family="Liberation Sans" font-weight="bold" font-size="12" fill="#000">Oct</text><text x="912.9" y="399.5" text-anchor="middle" font-family="Liberation Sans" font-weight="bold" font-size="12" fill="#fff">Oct</text><text x="991.1" y="401.5" text-anchor="middle" font-family="Liberation Sans" font-weight="bold" font-size="12" fill="#000">Jan</text><text x="989.1" y="399.5" text-anchor="middle" font-family="Liberation Sans" font-weight="bold" font-size="12" fill="#fff">Jan</text><text x="1066.9" y="401.5" text-anchor="middle" font-family="Liberation Sans" font-weight="bold" font-size="12" fill="#000">Apr</text><text x="1064.9" y="399.5" text-anchor="middle" font-family="Liberation Sans" font-weight="bold" font-size="12" fill="#fff">Apr</text><text x="1143.3" y="401.5" text-anchor="middle" font-family="Liberation Sans" font-weight="bold" font-size="12" fill="#000">Jul</text><text x="1141.3" y="399.5" text-anchor="middle" font-family="Liberation Sans" font-weight="bold" font-size="12" fill="#fff">Jul</text><text x="1219.1" y="401.5" text-anchor="middle" font-family="Liberation Sans" font-weight="bold" font-size="12" fill="#000">Oct</text><text x="1217.1" y="399.5" text-anchor="middle" font-family="Liberation Sans" font-weight="bold" font-size="12" fill="#fff">Oct</text><text x="643" y="50.5" text-anchor="middle" font-family="Liberation Serif" font-weight="bold" font-size="18" fill="#000">#CLX16</text><text x="641" y="48.5" text-anchor="middle" font-family="Liberation Serif" font-weight="bold" font-size="18" fill="#fff">#CLX16</text><text transform="translate(1269,336) rotate(90)" font-family="Liberation Sans" font-weight="bold" font-size="6" fill="#000">D_DeTrend30</text><text x="13" y="172" font-family="Liberation Sans" font-weight="bold" font-size="12" fill="#e41e1e">#CLX16</text><rect x="3" y="176" width="161" height="100" fill="#646464"/><rect x="5" y="178" width="159" height="98" fill="#e3e3e3"/><rect x="5" y="178" width="157" height="96" fill="#ffffff"/><text x="12" y="191" font-family="Liberation Sans" font-size="12.5" fill="#000">12/4/2014</text><text x="12" y="207" font-family="Liberation Sans" font-size="12.5" fill="#000">O:71.27</text><text x="12" y="223" font-family="Liberation Sans" font-size="12.5" fill="#000">H:71.27</text><text x="12" y="239" font-family="Liberation Sans" font-size="12.5" fill="#000">L:71.27</text><text x="12" y="255" font-family="Liberation Sans" font-size="12.5" fill="#000">C:71.27</text><text x="12" y="271" font-family="Liberation Sans" font-size="12.5" fill="#000">D_DeTrend30::DeTrend:-5.</text></svg>

<!-- controls row -->
<div class="lbl" style="left:12px;top:412px">Symbol</div>
<div class="sunk" style="left:10px;top:428px;width:85px;height:20px"><div class="in"></div>
  <div class="sel" style="left:2px;top:2px;width:40px;height:13px;line-height:13px;padding-left:1px;letter-spacing:-0.3px">#CLX16</div>
  <div class="ddb"><div class="in"></div><div class="arr"></div></div>
</div>
<div class="lbl" style="left:103px;top:412px">TimeFrame</div>
<div class="sunk" style="left:101px;top:428px;width:90px;height:20px"><div class="in"></div>
  <div class="lbl" style="left:3px;top:3px">Daily</div>
  <div class="ddb"><div class="in"></div><div class="arr"></div></div>
</div>
<div class="lbl" style="left:200px;top:412px">Start DateTime</div>
<div class="sunk" style="left:198px;top:428px;width:100px;height:20px"><div class="in"></div>
  <div class="lbl" style="left:10px;top:3px">6/21/2013</div>
  <div class="ddb"><div class="in"></div><div class="arr"></div></div>
</div>
<div class="lbl" style="left:308px;top:412px">Shift</div>
<div class="sunk" style="left:306px;top:428px;width:33px;height:19px"><div class="in"></div>
  <div class="lbl" style="left:3px;top:3px">0</div>
</div>
<div class="btn" style="left:346px;top:428px;width:55px;height:21px;line-height:21px"><div class="in"></div>Apply</div>
<div class="lbl" style="left:467px;top:412px">Y Range</div>
<div class="lbl" style="left:433px;top:431px">Price</div>
<div class="btn" style="left:467px;top:429px;width:23px;height:20px;line-height:18px"><div class="in"></div>+</div>
<div class="btn" style="left:492px;top:429px;width:23px;height:20px;line-height:18px"><div class="in"></div>-</div>
<div class="lbl" style="left:557px;top:412px">Saved Charts</div>
<div class="sunk" style="left:526px;top:428px;width:119px;height:20px"><div class="in"></div>
  <div class="lbl" style="left:3px;top:3px">N/A</div>
  <div class="ddb"><div class="in"></div><div class="arr"></div></div>
</div>
<div class="chk" style="left:526px;top:453px"><div class="in"></div>
  <svg class="abs" style="left:1px;top:1px" width="9" height="9"><path d="M1 4.5 L3.3 7 L8 1.5" stroke="#000" stroke-width="1.6" fill="none"/></svg>
</div>
<div class="lbl" style="left:544px;top:453px">Candlesticks</div>
<div class="link" style="left:655px;top:427px">Chart Save</div>
<div class="link" style="left:736px;top:427px">Chart Delete</div>
<div class="link" style="left:655px;top:447px">Chart Save As</div>
<div class="chk" style="left:807px;top:415px"><div class="in"></div></div>
<div class="lbl" style="left:824px;top:415px">Hide Annotation Text</div>

<!-- tab control -->
<div class="abs" style="left:10px;top:488px;width:865px;height:225px;background:#fff;border-top:1px solid #fff;border-left:1px solid #fff;border-right:2px solid #696969;border-bottom:2px solid #696969"></div>
<div class="tab" style="left:60px;width:49px"><div class="in"></div>ZigZags</div>
<div class="tab" style="left:109px;width:45px"><div class="in"></div>Angles</div>
<div class="tab" style="left:154px;width:68px"><div class="in"></div>Square Outs</div>
<div class="tab" style="left:222px;width:43px"><div class="in"></div>HoD</div>
<div class="tab" style="left:265px;width:49px"><div class="in"></div>Fractals</div>
<div class="tab" style="left:314px;width:94px"><div class="in"></div>Import Ephemeris</div>
<div class="tab" style="left:408px;width:89px"><div class="in"></div>Time Projections</div>
<div class="tab" style="left:497px;width:118px"><div class="in"></div>PlanetTimeProjections</div>
<div class="tab" style="left:615px;width:79px"><div class="in"></div>PlanetaryLines</div>
<div class="tab" style="left:694px;width:49px"><div class="in"></div>Repeat</div>
<div class="tab" style="left:10px;top:469px;height:20px;width:50px;background:#f4f4f4;line-height:15px;border-bottom:none"><div class="in"></div>Studies</div>

<div class="chk" style="left:13px;top:493px"><div class="in"></div></div>
<div class="lbl" style="left:31px;top:493px">Show Price as Line</div>
<div class="chk" style="left:13px;top:510px"><div class="in"></div></div>
<div class="lbl" style="left:31px;top:510px">Show Volume</div>
<div class="sunk" style="left:13px;top:529px;width:158px;height:159px"><div class="in"></div>
  <div class="sel" style="left:1px;top:1px;width:155px;height:13px;line-height:13px;padding-left:2px">D_DeTrend30</div>
</div>
<div class="btn" style="left:177px;top:553px;width:23px;height:23px;line-height:21px;background:#fff"><div class="in"></div>&gt;</div>
<div class="chk" style="left:13px;top:694px"><div class="in"></div></div>
<div class="lbl" style="left:31px;top:694px">Show Expanded Study Name</div>

<!-- grid -->
<div class="abs" style="left:206px;top:493px;width:659px;height:216px;background:#ababab;border-top:1px solid #696969;border-left:1px solid #696969"></div>
<div class="abs" style="left:207px;top:494px;width:658px;height:19px;background:#f0f0f0;border-bottom:1px solid #a0a0a0"></div>
<div class="abs" style="left:207px;top:513px;width:658px;height:19px;background:#fff;border-bottom:1px solid #a0a0a0"></div>
<div class="cell" style="left:207px;top:494px;width:95px;height:19px;line-height:20px;border-right:1px solid #a0a0a0">StudyName</div><div class="cell" style="left:207px;top:513px;width:95px;height:19px;border-right:1px solid #a0a0a0;background:#fff"><div class="abs" style="left:1px;top:1px;right:0;bottom:0;background:#3399ff"></div><div class="abs" style="left:3px;top:0;line-height:21px;color:#fff">D_DeTrend30</div></div><div class="cell" style="left:302px;top:494px;width:95px;height:19px;line-height:20px;border-right:1px solid #a0a0a0">ResultName</div><div class="cell" style="left:302px;top:513px;width:95px;height:19px;line-height:21px;border-right:1px solid #a0a0a0">D_DeTrend30::DeTrend</div><div class="cell" style="left:397px;top:494px;width:95px;height:19px;line-height:20px;border-right:1px solid #a0a0a0">Color</div><div class="cell" style="left:397px;top:513px;width:95px;height:19px;line-height:21px;border-right:1px solid #a0a0a0">Black</div><div class="cell" style="left:492px;top:494px;width:95px;height:19px;line-height:20px;border-right:1px solid #a0a0a0">Thickness</div><div class="cell" style="left:492px;top:513px;width:95px;height:19px;line-height:21px;border-right:1px solid #a0a0a0">ThinSolid</div><div class="cell" style="left:587px;top:494px;width:95px;height:19px;line-height:20px;border-right:1px solid #a0a0a0">LineType</div><div class="cell" style="left:587px;top:513px;width:95px;height:19px;line-height:21px;border-right:1px solid #a0a0a0">Line</div><div class="cell" style="left:682px;top:494px;width:95px;height:19px;line-height:20px;border-right:1px solid #a0a0a0">Visible</div><div class="cell" style="left:682px;top:513px;width:95px;height:19px;line-height:21px;border-right:1px solid #a0a0a0">True</div><div class="cell" style="left:777px;top:494px;width:88px;height:19px;line-height:20px;border-right:1px solid #a0a0a0">AnnotationName</div><div class="cell" style="left:777px;top:513px;width:88px;height:19px;line-height:21px;border-right:1px solid #a0a0a0"></div>
<div class="abs" style="left:207px;top:695px;width:658px;height:14px;background:#f0f0f0"></div>
<div class="abs" style="left:224px;top:696px;width:617px;height:13px;background:#cdcdcd"></div>
<svg class="abs" style="left:207px;top:695px" width="658" height="14">
  <path d="M11 4 L7.5 7 L11 10" stroke="#606060" stroke-width="1.6" fill="none"/>
  <path d="M648 4 L651.5 7 L648 10" stroke="#606060" stroke-width="1.6" fill="none"/>
</svg>

<!-- right list -->
<div class="sunk" style="left:877px;top:471px;width:400px;height:237px"><div class="in"></div>
  <div class="sel" style="left:1px;top:1px;width:120px;height:13px;line-height:13px;padding-left:1px">N/A</div>
</div>
</body></html>
